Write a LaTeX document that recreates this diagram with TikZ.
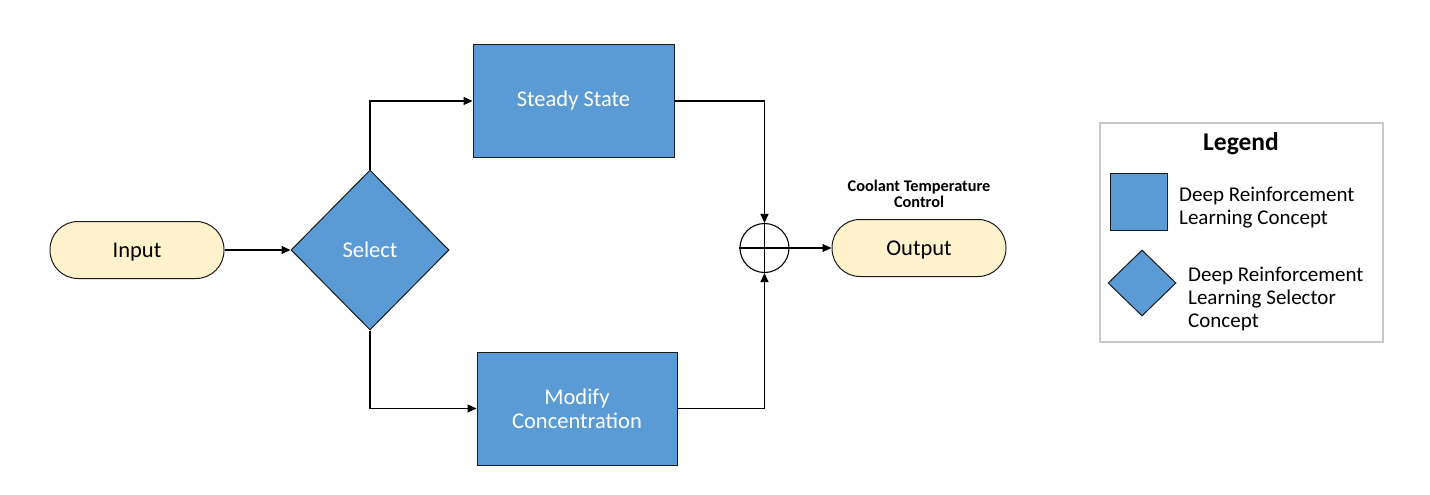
\documentclass[tikz,border=0pt]{standalone}
\usepackage{fontspec}
\setmainfont{Carlito}
\usetikzlibrary{shapes.geometric,arrows.meta}
\definecolor{dblue}{HTML}{5B9BD5}
\definecolor{dyellow}{HTML}{FFF2CC}
\definecolor{lgray}{HTML}{C8C8C8}
\definecolor{edge}{HTML}{1A1A1A}
\tikzset{
  conn/.style={draw=black, line width=1.1pt, -{Triangle[length=9pt,width=8pt]}},
  term/.style={draw=edge, line width=1pt, fill=dyellow, rectangle, rounded corners=28pt,
    minimum width=174pt, minimum height=57pt, inner sep=0pt, text height=15pt, text depth=0pt,
    font=\fontsize{22.5}{24}\selectfont},
  proc/.style={draw=edge, line width=1pt, fill=dblue, rectangle,
    minimum width=201pt, minimum height=113pt, inner sep=0pt, text=white, align=center,
    font=\fontsize{22.5}{24}\selectfont},
  decide/.style={draw=edge, line width=1pt, fill=dblue, diamond, aspect=1,
    minimum width=158pt, minimum height=160pt, inner sep=0pt, text=white, text height=15pt, text depth=0pt,
    font=\fontsize{22.5}{24}\selectfont},
  sumnode/.style={draw=black, line width=1.1pt, circle, minimum size=49pt, inner sep=0pt, fill=white},
  legtext/.style={anchor=west, align=left, font=\fontsize{21}{23}\selectfont, inner sep=0pt},
}
\begin{document}
\begin{tikzpicture}[x=1pt,y=-1pt]
\useasboundingbox (0,0) rectangle (1430,495);
% main nodes
\node[term] (in) at (137,250) {Input};
\node[decide] (sel) at (370,250) {Select};
\node[proc] (ss) at (573.5,101) {Steady State};
\node[proc, minimum width=200pt] (mc) at (577,408.5) {Modify\\Concentration};
\node[sumnode] (sum) at (764.5,248) {};
\draw[line width=1.1pt] (sum.north) -- (sum.south) (sum.west) -- (sum.east);
\node[term] (out) at (919,248) {Output};
\node[align=center, font=\bfseries\fontsize{16.3}{16.5}\selectfont, inner sep=0pt] (lab) at (919,194) {Coolant Temperature\\Control};
% connectors
\draw[conn] (in.east) -- (sel.west);
\draw[conn] (sel.north) |- (ss.west);
\draw[conn] (sel.south) |- (mc.west);
\draw[conn] (ss.east) -| (sum.north);
\draw[conn] (mc.east) -| (sum.south);
\draw[conn] (sum.east) -- (out.west);
% legend
\node[draw=lgray, line width=1.2pt, rectangle, minimum width=283pt, minimum height=219pt, inner sep=0pt] (leg) at (1241.5,232.5) {};
\node[font=\bfseries\fontsize{25.5}{26}\selectfont, inner sep=0pt] (legt) at (1241,144) {Legend};
\node[draw=edge, line width=1pt, fill=dblue, rectangle, minimum size=57pt, inner sep=0pt] (lsq) at (1138.5,201.5) {};
\node[legtext] (lsqt) at (1179,207.5) {Deep Reinforcement\\Learning Concept};
\node[draw=edge, line width=1pt, fill=dblue, diamond, aspect=1, minimum width=68pt, minimum height=66pt, inner sep=0pt] (ldi) at (1142,283) {};
\node[legtext] (ldit) at (1188,298.5) {Deep Reinforcement\\Learning Selector\\Concept};
\end{tikzpicture}
\end{document}
